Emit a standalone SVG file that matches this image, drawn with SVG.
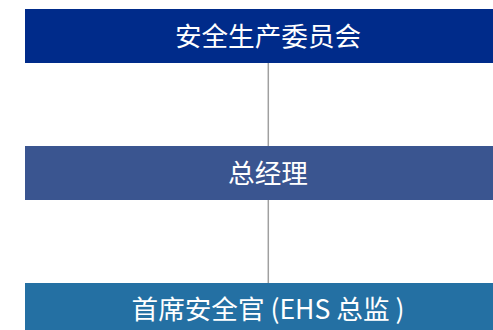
<svg xmlns="http://www.w3.org/2000/svg" width="493" height="330" viewBox="0 0 493 330">
<style>
.lbl{font-family:"Noto Sans CJK SC","Noto Sans",sans-serif;font-size:26.6px;fill:#ffffff;text-anchor:middle;dominant-baseline:central}
.conn{stroke:#a0a0a0;stroke-width:1.5;fill:none}
</style>
<rect width="493" height="330" fill="#ffffff"/>
<g id="connectors">
<line class="conn" x1="268.3" y1="63" x2="268.3" y2="146"/>
<line class="conn" x1="268.3" y1="200" x2="268.3" y2="283"/>
</g>
<g id="node1">
<rect x="25" y="9" width="486" height="54" fill="#002b8a"/>
<text class="lbl" x="268" y="34">安全生产委员会</text>
</g>
<g id="node2">
<rect x="25" y="146" width="486" height="54" fill="#3a5590"/>
<text class="lbl" x="268" y="171">总经理</text>
</g>
<g id="node3">
<rect x="25" y="283" width="486" height="54" fill="#2470a3"/>
<text class="lbl" x="268" y="307.5">首席安全官 (EHS 总监 )</text>
</g>
</svg>
